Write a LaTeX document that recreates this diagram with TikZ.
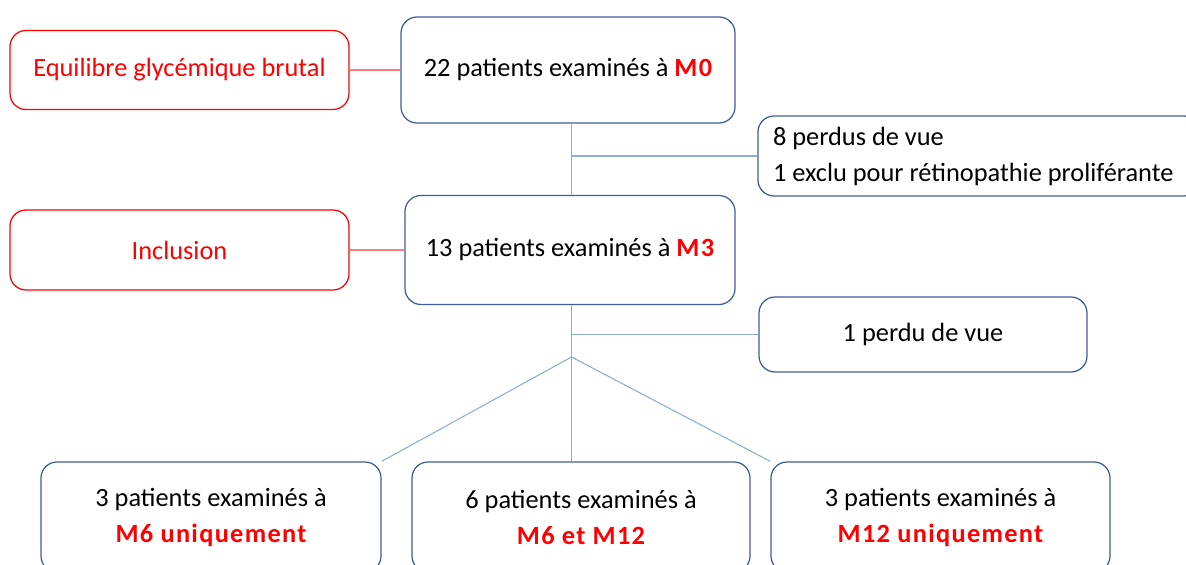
\documentclass[tikz,border=0pt]{standalone}
\usepackage{fontspec}
\setmainfont{Carlito}
\usepackage{tikz}
\usetikzlibrary{positioning, shapes}
\definecolor{bleu}{RGB}{62, 92, 155}
\definecolor{bleuclair}{RGB}{143, 170, 220}
\definecolor{rouge}{RGB}{255, 0, 0}
\definecolor{rougeclair}{RGB}{255, 125, 125}
\tikzset{
    boite/.style={draw=bleu, rectangle, rounded corners=0.32cm, line width=0.7pt, align=center, text=black},
    boiteRouge/.style={draw=rouge, rectangle, rounded corners=0.32cm, line width=0.7pt, align=center, text=rouge},
    conn/.style={-, bleuclair, line width=0.6pt},
    connRouge/.style={-, rougeclair, line width=0.6pt},
}
\newcommand{\mois}[1]{\textcolor{rouge}{\bfseries\addfontfeatures{LetterSpace=5}#1}}

\begin{document}
\begin{tikzpicture}[font=\fontsize{15}{20.5}\selectfont]
        \useasboundingbox (0,0) rectangle (23.72,-11.3);

        \node [boiteRouge, minimum width=6.78cm, minimum height=1.58cm] (eq) at (3.59,-1.40) {Equilibre glycémique brutal};
        \node [boite, minimum width=6.68cm, minimum height=2.12cm] (m0) at (11.36,-1.40) {22 patients examinés à \mois{M0}};
        \node [boite, minimum height=1.6cm, text width=8.24cm, inner xsep=0.3cm, align=flush left] (perdus) at (19.58,-3.12) {8 perdus de vue\\1 exclu pour rétinopathie proliférante};

        \node [boiteRouge, minimum width=6.78cm, minimum height=1.6cm] (incl) at (3.59,-5.0) {Inclusion};
        \node [boite, minimum width=6.6cm, minimum height=2.18cm] (m3) at (11.40,-5.0) {13 patients examinés à \mois{M3}};
        \node [boite, minimum width=6.56cm, minimum height=1.5cm] (perdu) at (18.46,-6.69) {1 perdu de vue};

        \coordinate (fourche) at (11.43,-7.14);

        \node [boite, minimum width=6.8cm, minimum height=2.2cm] (b1) at (4.22,-10.34) {3 patients examinés à\\\mois{M6 uniquement}};
        \node [boite, minimum width=6.76cm, minimum height=2.2cm] (b2) at (11.62,-10.34) {6 patients examinés à\\\mois{M6 et M12}};
        \node [boite, minimum width=6.78cm, minimum height=2.2cm] (b3) at (18.81,-10.34) {3 patients examinés à\\\mois{M12 uniquement}};

        \draw [connRouge] (eq.east) -- (m0.west);
        \draw [connRouge] (incl.east) -- (m3.west);

        \draw [conn] (m0.south -| fourche) -- (m3.north -| fourche);
        \draw [conn] (perdus.west) -- (perdus.west -| fourche);

        \draw [conn] (m3.south -| fourche) -- (fourche);
        \draw [conn] (perdu.west) -- (perdu.west -| fourche);

        \draw [conn] (fourche) -- (b1.north east);
        \draw [conn] (fourche) -- (fourche |- b2.north);
        \draw [conn] (fourche) -- (b3.north west);
    \end{tikzpicture}
\end{document}
